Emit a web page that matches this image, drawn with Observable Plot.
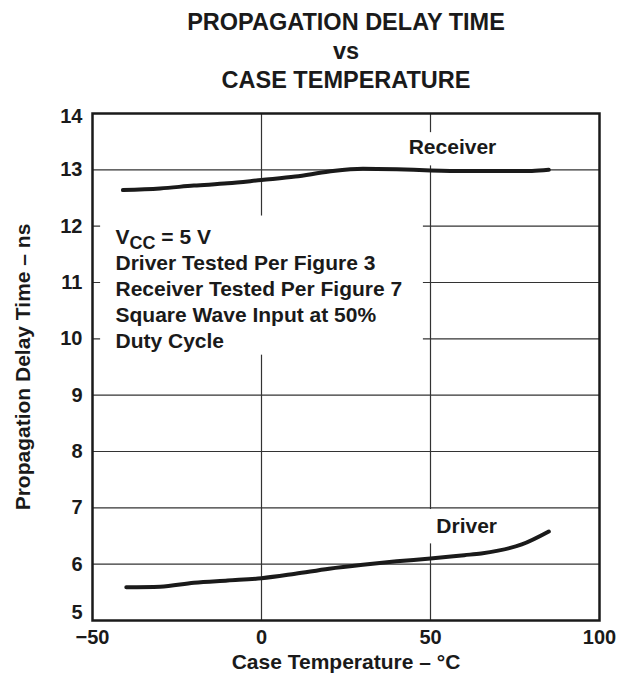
<!DOCTYPE html>
<html><head><meta charset="utf-8">
<script src="https://cdn.jsdelivr.net/npm/d3@7"></script>
<script src="https://cdn.jsdelivr.net/npm/@observablehq/plot@0.6"></script>
<style>body{margin:0;background:#fff} svg{display:block}</style>
</head><body><div id="chart"></div>
<script>
// Data
const receiverTemp = [-41, -30, -20, -10, 0, 10, 20, 30, 40, 50, 60, 70, 80, 85];
const receiverDelay = [12.64, 12.67, 12.72, 12.76, 12.82, 12.88, 12.97, 13.02, 13.01, 12.99, 12.98, 12.98, 12.98, 13.0];
const driverTemp = [-40, -30, -20, -10, 0, 10, 20, 30, 40, 50, 60, 65, 70, 77, 85];
const driverDelay = [5.59, 5.60, 5.67, 5.71, 5.75, 5.83, 5.92, 5.99, 6.05, 6.10, 6.16, 6.19, 6.24, 6.35, 6.58];
const xTicks = [-50, 0, 50, 100];
const yTicks = [5, 6, 7, 8, 9, 10, 11, 12, 13, 14];
const xGrid = [0, 50];
const yGrid = [6, 7, 8, 9, 10, 11, 12, 13];
const titleLines = ["PROPAGATION DELAY TIME", "vs", "CASE TEMPERATURE"];
const xLabel = "Case Temperature – °C";
const yLabel = "Propagation Delay Time – ns";
const noteLines = ["VCC = 5 V", "Driver Tested Per Figure 3", "Receiver Tested Per Figure 7", "Square Wave Input at 50%", "Duty Cycle"];
const seriesLabels = [{name: "Receiver", x: 56.5, y: 13.4}, {name: "Driver", x: 60.7, y: 6.67}];
const notePos = {x: -43.2, y: 12.02};
const maskBoxes = [
  {x1: -47.6, x2: 47.9, y1: 9.71, y2: 12.18},
  {x1: 42.6, x2: 70, y1: 13.07, y2: 13.66},
  {x1: 48.5, x2: 70.7, y1: 6.36, y2: 6.97}
];

const receiver = receiverTemp.map((t, i) => ({t, d: receiverDelay[i]}));
const driver = driverTemp.map((t, i) => ({t, d: driverDelay[i]}));
const ink = "#1a1a1a";
const font = "'Liberation Sans', Arial, Helvetica, sans-serif";
const tickStyle = {tickSize: 0, tickPadding: 10, fontSize: 20, fontWeight: "bold", label: null};

const chart = Plot.plot({
  width: 626, height: 684,
  marginLeft: 92, marginRight: 27, marginTop: 113, marginBottom: 64,
  style: {fontFamily: font, fontWeight: "bold", color: ink, background: "#fff", overflow: "visible"},
  x: {domain: [-50, 100]},
  y: {domain: [5, 14]},
  marks: [
    Plot.ruleX(xGrid, {stroke: "#333", strokeWidth: 1.2}),
    Plot.ruleY(yGrid, {stroke: "#333", strokeWidth: 1.2}),
    Plot.rect(maskBoxes, {x1: "x1", x2: "x2", y1: "y1", y2: "y2", fill: "white"}),
    Plot.line(receiver, {x: "t", y: "d", curve: "monotone-x", stroke: ink, strokeWidth: 4, strokeLinecap: "round"}),
    Plot.line(driver, {x: "t", y: "d", curve: "monotone-x", stroke: ink, strokeWidth: 4, strokeLinecap: "round"}),
    Plot.frame({stroke: ink, strokeWidth: 2.5}),
    Plot.axisX({ticks: xTicks, tickSize: 0, tickPadding: 9, fontSize: 20, fontWeight: "bold", label: null}),
    Plot.axisY({ticks: yTicks.filter(v => v !== 5 && v !== 14), ...tickStyle}),
    Plot.axisY({ticks: [5], ...tickStyle, dy: -8}),
    Plot.axisY({ticks: [14], ...tickStyle, dy: 3}),
    Plot.text([titleLines.join("\n")], {text: d => d, frameAnchor: "top", dy: -64, lineAnchor: "middle", lineHeight: 1.24, fontSize: 23.5, fontWeight: "bold"}),
    Plot.text([xLabel], {text: d => d, frameAnchor: "bottom", dy: 48.5, fontSize: 21, fontWeight: "bold"}),
    Plot.text([yLabel], {text: d => d, frameAnchor: "left", textAnchor: "middle", rotate: -90, dx: -69, fontSize: 21, fontWeight: "bold"}),
    Plot.text([noteLines.join("\n")], {text: d => d, x: () => notePos.x, y: () => notePos.y, textAnchor: "start", lineAnchor: "top", lineHeight: 1.243, fontSize: 21, fontWeight: "bold"}),
    Plot.text(seriesLabels, {x: "x", y: "y", text: "name", fontSize: 21, fontWeight: "bold"})
  ]
});
document.getElementById("chart").appendChild(chart);

// subscript "CC" in VCC
const NS = "http://www.w3.org/2000/svg";
chart.querySelectorAll("tspan, text").forEach(el => {
  if (el.childElementCount === 0 && el.textContent === "VCC = 5 V") {
    el.textContent = "V";
    const sub = document.createElementNS(NS, "tspan");
    sub.setAttribute("dy", "5");
    sub.setAttribute("font-size", "18");
    sub.textContent = "CC";
    const rest = document.createElementNS(NS, "tspan");
    rest.setAttribute("dy", "-5");
    rest.textContent = " = 5 V";
    el.appendChild(sub);
    el.appendChild(rest);
  }
});
</script>
</body></html>
